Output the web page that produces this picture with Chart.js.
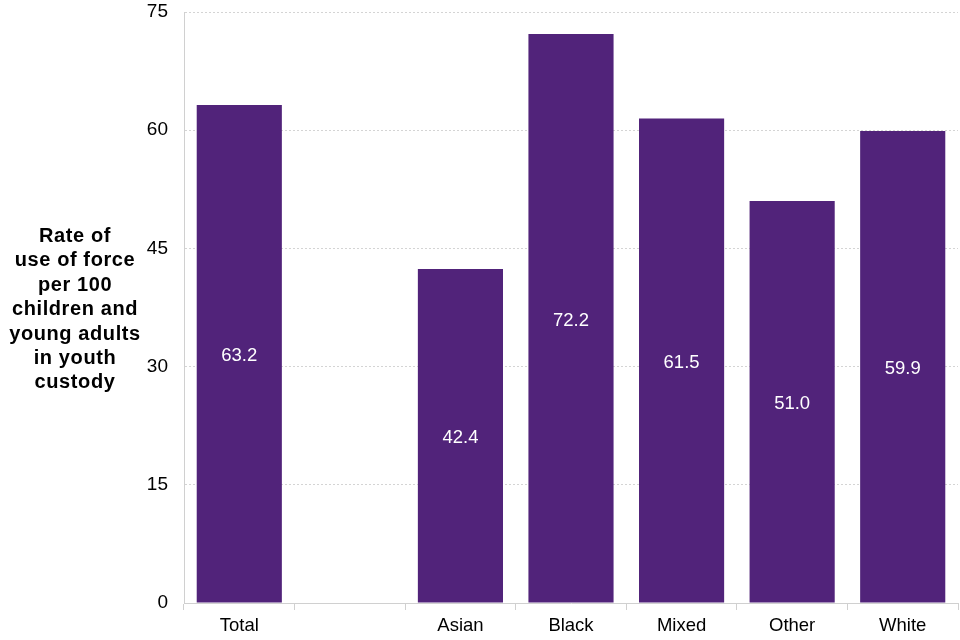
<!DOCTYPE html>
<html>
<head>
<meta charset="utf-8">
<script src="https://cdn.jsdelivr.net/npm/chart.js@4"></script>
<style>
html,body{margin:0;padding:0;background:#fff;}
#wrap{width:960px;height:640px;}
</style>
</head>
<body>
<div id="wrap"><canvas id="c" width="960" height="640"></canvas></div>
<script>
const categories = ["Total", "", "Asian", "Black", "Mixed", "Other", "White"];
const rates = [63.2, null, 42.4, 72.2, 61.5, 51.0, 59.9];
const yTicks = [0, 15, 30, 45, 60, 75];
const yTitleLines = ["Rate of", "use of force", "per 100", "children and", "young adults", "in youth", "custody"];

const FONT = "Arial, 'Liberation Sans', sans-serif";

const valueLabels = {
  id: 'valueLabels',
  afterDatasetsDraw(chart) {
    const ctx = chart.ctx;
    const meta = chart.getDatasetMeta(0);
    ctx.save();
    ctx.fillStyle = '#ffffff';
    ctx.font = '18.5px ' + FONT;
    ctx.textAlign = 'center';
    ctx.textBaseline = 'middle';
    meta.data.forEach((bar, i) => {
      const v = rates[i];
      if (v === null || v === undefined) return;
      ctx.fillText(v.toFixed(1), bar.x, (bar.y + bar.base) / 2 + 2.5);
    });
    ctx.restore();
  }
};

const yTitle = {
  id: 'yTitle',
  afterDraw(chart) {
    const ctx = chart.ctx;
    ctx.save();
    ctx.fillStyle = '#000';
    ctx.font = 'bold 20px ' + FONT;
    ctx.textAlign = 'center';
    ctx.textBaseline = 'middle';
    try { ctx.letterSpacing = '0.6px'; } catch (e) {}
    const startY = 236.5, step = 24.4;
    yTitleLines.forEach((l, i) => ctx.fillText(l, 75, startY + i * step));
    ctx.restore();
  }
};

new Chart(document.getElementById('c'), {
  type: 'bar',
  data: {
    labels: categories,
    datasets: [{
      data: rates,
      backgroundColor: '#51237a',
      borderWidth: 0,
      categoryPercentage: 1.0,
      barPercentage: 0.77
    }]
  },
  options: {
    responsive: false,
    animation: false,
    devicePixelRatio: 1,
    layout: { padding: { top: 0, right: 2, left: 0, bottom: 0 } },
    plugins: { legend: { display: false }, tooltip: { enabled: false } },
    scales: {
      x: {
        offset: true,
        grid: { offset: true, drawOnChartArea: false, drawTicks: true, tickLength: 7, color: '#d0d0d0' },
        border: { color: '#d0d0d0' },
        ticks: { color: '#000', font: { family: FONT, size: 18.5 }, padding: 5, maxRotation: 0, autoSkip: false },
        afterFit(scale) { scale.height = 37; scale.paddingLeft = 0; scale.paddingRight = 0; }
      },
      y: {
        min: 0, max: 75,
        afterBuildTicks(scale) { scale.ticks = yTicks.map(v => ({ value: v })); },
        grid: { color: '#d4d4d4', drawTicks: false },
        border: { color: '#d0d0d0', dash: [2, 2] },
        ticks: { color: '#000', font: { family: FONT, size: 19 }, padding: 16 },
        afterFit(scale) { scale.width = 184; scale.paddingTop = 12; scale.paddingBottom = 0; }
      }
    }
  },
  plugins: [valueLabels, yTitle]
});
</script>
</body>
</html>
